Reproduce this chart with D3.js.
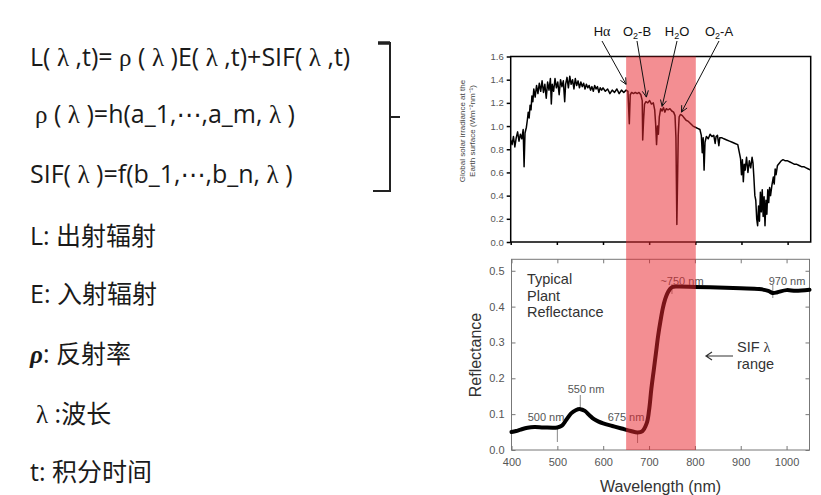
<!DOCTYPE html>
<html>
<head>
<meta charset="utf-8">
<script src="https://cdn.jsdelivr.net/npm/d3@7"></script>
<style>
  body { margin: 0; background: #fff; }
  svg { display: block; }
</style>
</head>
<body>
<svg id="chart" width="821" height="495"></svg>
<script>
// ---- data -------------------------------------------------------------
// Global solar irradiance at the Earth surface (W m-2 nm-1)
const irrWavelength = [400,403,406,409,412,415,418,421,424,427,429,431,434,436,438,440,442,444,446,448,
  450,453,456,459,462,465,468,471,474,477,480,483,486,488,490,493,496,499,502,505,508,511,514,517,519,
  522,525,528,531,534,537,540,543,546,549,552,555,558,561,564,567,570,573,576,579,582,585,588,591,594,
  597,600,605,610,615,620,625,630,635,640,645,650,654,657,659,662,666,670,674,678,682,685,686,688,690,
  693,697,701,705,709,712,714,716,718,720,722,725,728,731,734,737,741,745,749,753,756,758,760,761,763,
  765,768,772,776,780,785,790,795,800,805,810,813,815,817,819,821,824,828,832,836,840,843,845,848,851,
  853,857,862,868,874,880,886,892,895,898,900,902,904,906,908,911,914,917,920,923,925,927,929,931,933,
  935,937,939,941,943,945,947,949,951,953,955,957,959,961,963,966,969,971,973,975,978,982,986,990,995,
  1000,1005,1010,1015,1020,1025,1030,1035,1040,1045,1050];
const irrValue = [0.88,0.84,0.91,0.82,0.90,0.95,0.87,0.93,0.89,0.97,0.65,0.94,0.99,1.05,1.12,1.07,1.18,1.14,1.26,1.21,
  1.32,1.25,1.35,1.28,1.37,1.30,1.39,1.29,1.36,1.24,1.38,1.31,1.41,1.19,1.36,1.30,1.41,1.33,1.38,1.27,1.40,1.34,1.39,1.21,1.36,
  1.42,1.33,1.43,1.36,1.40,1.32,1.41,1.35,1.39,1.33,1.38,1.34,1.37,1.32,1.36,1.33,1.35,1.31,1.34,1.30,1.35,1.32,1.34,1.29,1.33,
  1.31,1.33,1.30,1.32,1.28,1.31,1.29,1.32,1.28,1.31,1.29,1.31,1.30,1.02,1.27,1.29,1.28,1.29,1.28,1.29,1.27,1.22,0.88,1.06,1.19,
  1.21,1.20,1.22,1.19,1.20,1.14,1.02,0.84,1.00,0.93,1.08,1.15,1.13,1.16,1.12,1.15,1.14,1.15,1.13,1.12,1.09,0.90,0.15,0.40,0.92,
  1.08,1.10,1.09,1.07,1.05,1.04,1.02,1.00,0.99,0.98,0.97,0.92,0.77,0.90,0.62,0.86,0.91,0.89,0.93,0.91,0.92,0.85,0.91,0.92,0.83,
  0.90,0.90,0.89,0.88,0.87,0.86,0.85,0.84,0.78,0.72,0.58,0.71,0.52,0.67,0.62,0.73,0.60,0.70,0.64,0.73,0.68,0.55,0.40,0.36,0.20,
  0.14,0.31,0.18,0.43,0.26,0.45,0.22,0.39,0.14,0.36,0.24,0.45,0.34,0.47,0.40,0.49,0.56,0.50,0.63,0.58,0.66,0.68,0.70,0.71,0.70,
  0.70,0.69,0.68,0.67,0.67,0.66,0.65,0.65,0.64,0.63,0.62];

// Typical plant reflectance
const reflWavelength = [400,410,420,435,450,470,500,510,520,530,540,550,560,570,580,590,600,620,640,660,
  675,685,695,700,705,710,715,720,725,730,735,740,745,750,760,800,850,900,940,960,970,980,1000,1020,1050];
const reflValue = [0.050,0.053,0.057,0.062,0.064,0.063,0.063,0.068,0.085,0.102,0.111,0.114,0.109,0.097,0.086,0.079,0.074,0.067,0.060,0.053,
  0.049,0.052,0.075,0.110,0.170,0.220,0.270,0.320,0.360,0.395,0.420,0.437,0.448,0.454,0.456,0.455,0.453,0.451,0.449,0.444,0.438,0.440,0.446,0.444,0.447];

const irrTicks = [0, 0.2, 0.4, 0.6, 0.8, 1.0, 1.2, 1.4, 1.6];
const reflTicks = [0, 0.1, 0.2, 0.3, 0.4, 0.5];
const wlTicks = [400, 500, 600, 700, 800, 900, 1000];
const sifRange = [650, 802];

// Absorption features pointed at in the irradiance panel
const absorptionNames = ["Hα", "O₂-B", "H₂O", "O₂-A"];
const absorptionWl = [650, 694, 728, 770];
const absorptionVal = [1.36, 1.25, 1.17, 1.12];

// Reflectance features marked on the curve
const featureNames = ["500 nm", "550 nm", "675 nm", "~750 nm", "970 nm"];
const featureWl = [500, 550, 675, 750, 970];

// Model text
const formulaLines = [
  "L( λ ,t)= ρ ( λ )E( λ ,t)+SIF( λ ,t)",
  "ρ ( λ )=h(a_1,⋯,a_m, λ )",
  "SIF( λ )=f(b_1,⋯,b_n, λ )"
];
const glossarySymbols = ["L", "E", "ρ", "λ", "t"];
const glossaryTexts = [": 出射辐射", ": 入射辐射", ": 反射率", " :波长", ": 积分时间"];

// ---- drawing ----------------------------------------------------------
const svg = d3.select("#chart");
const SANS = "'Open Sans', 'Noto Sans CJK SC', sans-serif";
const SERIF = "'Liberation Serif', 'DejaVu Serif', serif";
const ARIAL = "'Liberation Sans', Arial, sans-serif";
const SYMBOL = "'DejaVu Sans', sans-serif";

// left column: equations; Greek letters in a serif face, the midline ellipsis from DejaVu
function richLine(g, str, x, y, size) {
  const t = g.append("text").attr("x", x).attr("y", y)
    .attr("font-size", size).attr("fill", "#1a1a1a");
  const kind = ch => (ch === "λ" || ch === "ρ") ? SERIF : ch === "⋯" ? SYMBOL : SANS;
  const parts = [];
  for (const ch of str) {
    const f = kind(ch);
    if (parts.length && parts[parts.length - 1].f === f) parts[parts.length - 1].s += ch;
    else parts.push({ s: ch, f });
  }
  parts.forEach(p => t.append("tspan").attr("font-family", p.f).text(p.s));
  return t;
}

const textCol = svg.append("g");
const formulaX = [30, 35, 30];
const formulaY = [66, 123, 183];
formulaLines.forEach((s, i) => richLine(textCol, s, formulaX[i], formulaY[i], 25));

// bracket grouping the three equations
textCol.append("path")
  .attr("d", "M378,43H390V191H373M390,117H400")
  .attr("fill", "none").attr("stroke", "#222").attr("stroke-width", 2);
textCol.append("path").attr("d", "M378,43H390").attr("stroke", "#222").attr("stroke-width", 3.5);

const glossY = [245, 303, 363, 423, 481];
glossarySymbols.forEach((sym, i) => {
  const t = textCol.append("text").attr("x", i === 3 ? 36 : 30).attr("y", glossY[i])
    .attr("font-size", 25).attr("fill", "#1a1a1a");
  const s = t.append("tspan").text(sym);
  if (sym === "ρ") s.attr("font-family", SERIF).attr("font-weight", "bold").attr("font-style", "italic");
  else if (sym === "λ") s.attr("font-family", SERIF);
  else s.attr("font-family", SANS);
  t.append("tspan").attr("font-family", SANS).text(glossaryTexts[i]);
});

// ---- irradiance panel ----
const xTop = d3.scaleLinear().domain([400, 1050]).range([510.7, 810.7]);
const yTop = d3.scaleLinear().domain([0, 1.6]).range([242, 56.5]);

const irrPanel = svg.append("g");
irrPanel.append("path")
  .datum(irrWavelength.map((w, i) => [w, irrValue[i]]))
  .attr("d", d3.line().x(d => xTop(d[0])).y(d => yTop(d[1])))
  .attr("fill", "none").attr("stroke", "#000").attr("stroke-width", 1.5).attr("stroke-linejoin", "round");

irrPanel.append("rect")
  .attr("x", xTop(400)).attr("y", yTop(1.6))
  .attr("width", xTop(1050) - xTop(400)).attr("height", yTop(0) - yTop(1.6))
  .attr("fill", "none").attr("stroke", "#000").attr("stroke-width", 1.5);

const irrYAxis = irrPanel.append("g").attr("transform", `translate(${xTop(400)},0)`)
  .call(d3.axisLeft(yTop).tickValues(irrTicks).tickFormat(d3.format(".1f")).tickSize(4).tickSizeOuter(0).tickPadding(3));
irrYAxis.select(".domain").remove();
irrYAxis.selectAll("line").attr("stroke", "#000").attr("stroke-width", 1.5);
irrYAxis.selectAll("text").attr("font-family", ARIAL).attr("font-size", 9.5).attr("fill", "#555");

const irrXAxis = irrPanel.append("g").attr("transform", `translate(0,${yTop(0)})`)
  .call(d3.axisBottom(xTop).tickValues(wlTicks).tickFormat("").tickSize(3).tickSizeOuter(0));
irrXAxis.select(".domain").remove();
irrXAxis.selectAll("line").attr("stroke", "#000").attr("stroke-width", 1.5);

const yl = irrPanel.append("text").attr("font-family", ARIAL).attr("font-size", 8).attr("fill", "#444")
  .attr("text-anchor", "middle").attr("transform", "translate(465,131) rotate(-90)");
yl.append("tspan").attr("x", 0).attr("y", 0).text("Global solar irradiance at the");
yl.append("tspan").attr("x", 0).attr("y", 10).text("Earth surface (Wm⁻²nm⁻¹)");

// ---- reflectance panel ----
const xBot = d3.scaleLinear().domain([400, 1050]).range([511.5, 809.5]);
const yBot = d3.scaleLinear().domain([0, 0.532]).range([450, 259.3]);
const reflPanel = svg.append("g");

reflPanel.append("rect")
  .attr("x", xBot(400)).attr("y", yBot(0.532))
  .attr("width", xBot(1050) - xBot(400)).attr("height", yBot(0) - yBot(0.532))
  .attr("fill", "none").attr("stroke", "#777").attr("stroke-width", 1);

function styleAxis(g) {
  g.select(".domain").remove();
  g.selectAll("line").attr("stroke", "#777");
  g.selectAll("text").attr("font-family", ARIAL).attr("font-size", 11).attr("fill", "#555");
}
reflPanel.append("g").attr("transform", `translate(${xBot(400)},0)`)
  .call(d3.axisLeft(yBot).tickValues(reflTicks).tickFormat(d3.format(".1f")).tickSize(-4).tickPadding(7)).call(styleAxis);
reflPanel.append("g").attr("transform", `translate(${xBot(1050)},0)`)
  .call(d3.axisRight(yBot).tickValues(reflTicks).tickFormat("").tickSize(-4)).call(styleAxis);
reflPanel.append("g").attr("transform", `translate(0,${yBot(0)})`)
  .call(d3.axisBottom(xBot).tickValues(wlTicks).tickFormat(d3.format("d")).tickSize(-4).tickPadding(8)).call(styleAxis);
reflPanel.append("g").attr("transform", `translate(0,${yBot(0.532)})`)
  .call(d3.axisTop(xBot).tickValues(wlTicks).tickFormat("").tickSize(-4)).call(styleAxis);

// feature markers
const featTick = [[427, 442], [395, 410], [433, 443], [284, 294], [285, 298]];
featureWl.forEach((w, i) => {
  reflPanel.append("line").attr("x1", xBot(w)).attr("x2", xBot(w))
    .attr("y1", featTick[i][0]).attr("y2", featTick[i][1])
    .attr("stroke", "#888").attr("stroke-width", 1);
});

reflPanel.append("path")
  .datum(reflWavelength.map((w, i) => [w, reflValue[i]]))
  .attr("d", d3.line().curve(d3.curveCatmullRom.alpha(0.5)).x(d => xBot(d[0])).y(d => yBot(d[1])))
  .attr("fill", "none").attr("stroke", "#000").attr("stroke-width", 4).attr("stroke-linejoin", "round").attr("stroke-linecap", "round");

const featLabelX = [546, 586, 626, 682, 787];
const featLabelY = [421, 393, 421, 285, 285];
featureNames.forEach((n, i) => {
  reflPanel.append("text").attr("x", featLabelX[i]).attr("y", featLabelY[i])
    .attr("text-anchor", "middle").attr("font-family", ARIAL).attr("font-size", 11).attr("fill", "#555").text(n);
});

["Typical", "Plant", "Reflectance"].forEach((s, i) => {
  reflPanel.append("text").attr("x", 527).attr("y", 284 + i * 16.5)
    .attr("font-family", ARIAL).attr("font-size", 14.5).attr("fill", "#333").text(s);
});
reflPanel.append("text").attr("x", 737).attr("y", 352).attr("font-family", ARIAL).attr("font-size", 14.5).attr("fill", "#333")
  .text("SIF ").append("tspan").attr("font-family", SERIF).text("λ");
reflPanel.append("text").attr("x", 737).attr("y", 369).attr("font-family", ARIAL).attr("font-size", 14.5).attr("fill", "#333").text("range");
reflPanel.append("path").attr("d", "M733,356H706M712,352L706,356L712,360")
  .attr("fill", "none").attr("stroke", "#333").attr("stroke-width", 1.2);

reflPanel.append("text").attr("x", (xBot(400) + xBot(1050)) / 2).attr("y", 492).attr("text-anchor", "middle")
  .attr("font-family", ARIAL).attr("font-size", 16).attr("fill", "#333").text("Wavelength (nm)");
reflPanel.append("text").attr("text-anchor", "middle").attr("transform", "translate(481,355) rotate(-90)")
  .attr("font-family", ARIAL).attr("font-size", 16).attr("fill", "#333").text("Reflectance");

// ---- SIF wavelength band across both panels ----
svg.append("rect")
  .attr("x", xBot(sifRange[0])).attr("y", yTop(1.6))
  .attr("width", xBot(sifRange[1]) - xBot(sifRange[0])).attr("height", yBot(0) - yTop(1.6))
  .attr("fill", "#e8262e").attr("fill-opacity", 0.52);

// ---- absorption labels and arrows ----
const absLabelX = [602, 637, 677, 719];
absorptionNames.forEach((n, i) => {
  const t = svg.append("text").attr("x", absLabelX[i]).attr("y", 36).attr("text-anchor", "middle")
    .attr("font-family", ARIAL).attr("font-size", 13).attr("fill", "#111");
  if (n === "Hα") {
    t.append("tspan").text("H");
    t.append("tspan").attr("font-family", SERIF).attr("font-size", 14).text("α");
  } else {
    const [a, b] = n.split("₂");
    t.append("tspan").text(a);
    t.append("tspan").attr("font-size", 9).attr("dy", 3).text("2");
    t.append("tspan").attr("dy", -3).text(b);
  }
  const x0 = absLabelX[i], y0 = 41;
  const x1 = xTop(absorptionWl[i]), y1 = yTop(absorptionVal[i]);
  const ang = Math.atan2(y1 - y0, x1 - x0);
  const h = 7, spread = 0.45;
  svg.append("path")
    .attr("d", `M${x0},${y0}L${x1},${y1}` +
      `M${x1 - h * Math.cos(ang - spread)},${y1 - h * Math.sin(ang - spread)}L${x1},${y1}` +
      `L${x1 - h * Math.cos(ang + spread)},${y1 - h * Math.sin(ang + spread)}`)
    .attr("fill", "none").attr("stroke", "#111").attr("stroke-width", 1);
});
</script>
</body>
</html>
